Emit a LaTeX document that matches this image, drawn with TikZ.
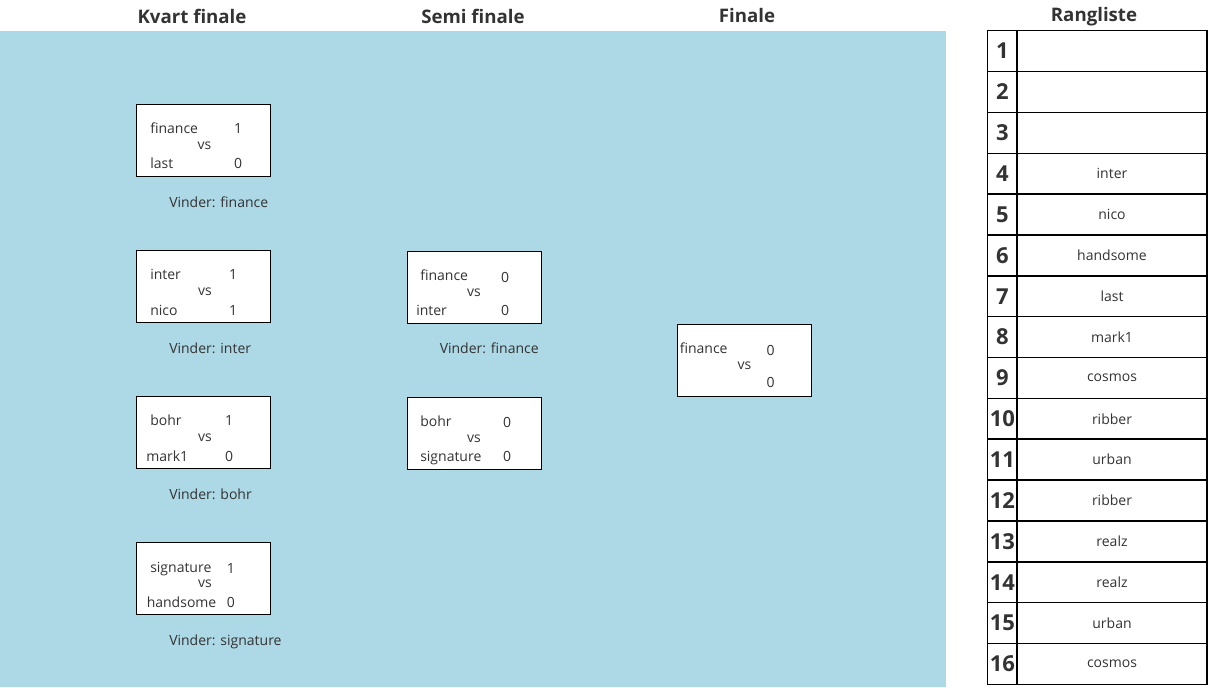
\documentclass[tikz,border=0pt]{standalone}
\usepackage{fontspec}
\setmainfont{Open Sans}
\usetikzlibrary{positioning}
\definecolor{bgblue}{HTML}{ADD8E6}
\definecolor{ink}{HTML}{333333}
\tikzset{
  plaintxt/.style={inner sep=0pt, text=ink, font=\fontsize{10.5}{12}\selectfont},
  team/.style={plaintxt, anchor=mid west, yshift=-1.5pt},
  score/.style={plaintxt, anchor=mid, yshift=-1.5pt},
  matchbox/.style={draw=black, fill=white, line width=0.75pt, anchor=north west,
    minimum width=100.5pt, minimum height=54pt, inner sep=0pt},
  heading/.style={plaintxt, font=\bfseries\fontsize{14}{16}\selectfont},
  rankno/.style={draw=black, line width=1.1pt, minimum width=22.5pt, minimum height=30.6pt,
    inner sep=0pt, text=ink, font=\bfseries\fontsize{16.5}{18}\selectfont},
  rankname/.style={draw=black, line width=1.1pt, minimum width=142.5pt, minimum height=30.6pt,
    inner sep=0pt, text=ink, font=\fontsize{10.5}{12}\selectfont}
}
\begin{document}
\begin{tikzpicture}[x=0.75pt,y=-0.75pt]
  \useasboundingbox (0,0) rectangle (1210,687);
  \fill[bgblue] (0,31) rectangle (946,687);

  % headings
  \node[heading] (hkvart) at (192,16) {Kvart finale};
  \node[heading] (hsemi) at (473,16) {Semi finale};
  \node[heading] (hfinale) at (747,15) {Finale};
  \node[heading] (hrang) at (1094,17) {Rangliste};

  % kvart finale
  \node[matchbox] (kf1) at (136,104) {};
  \node[team] (kf1a) at (150,128) {finance};
  \node[score] (kf1as) at (238,128) {1};
  \node[score] (kf1vs) at (204.5,144) {vs};
  \node[team] (kf1b) at (150,163) {last};
  \node[score] (kf1bs) at (238,163) {0};
  \node[team] (kf1win) at (169,201.5) {Vinder: finance};

  \node[matchbox] (kf2) at (136,250) {};
  \node[team] (kf2a) at (150,274) {inter};
  \node[score] (kf2as) at (233,274) {1};
  \node[score] (kf2vs) at (205,290) {vs};
  \node[team] (kf2b) at (150,310) {nico};
  \node[score] (kf2bs) at (233,310) {1};
  \node[team] (kf2win) at (169,347.5) {Vinder: inter};

  \node[matchbox] (kf3) at (136,396) {};
  \node[team] (kf3a) at (150,420) {bohr};
  \node[score] (kf3as) at (229,420) {1};
  \node[score] (kf3vs) at (205,436) {vs};
  \node[team] (kf3b) at (146,456) {mark1};
  \node[score] (kf3bs) at (229,456) {0};
  \node[team] (kf3win) at (169,493.5) {Vinder: bohr};

  \node[matchbox] (kf4) at (136,542) {};
  \node[team] (kf4a) at (150,567) {signature};
  \node[score] (kf4as) at (231,568) {1};
  \node[score] (kf4vs) at (205,582) {vs};
  \node[team] (kf4b) at (146.5,601.5) {handsome};
  \node[score] (kf4bs) at (231,601.5) {0};
  \node[team] (kf4win) at (169,639.5) {Vinder: signature};

  % semi finale
  \node[matchbox] (sf1) at (406.5,250.5) {};
  \node[team] (sf1a) at (420,275) {finance};
  \node[score] (sf1as) at (505,277) {0};
  \node[score] (sf1vs) at (474,290.5) {vs};
  \node[team] (sf1b) at (416,310) {inter};
  \node[score] (sf1bs) at (505,310) {0};
  \node[team] (sf1win) at (439.5,347.5) {Vinder: finance};

  \node[matchbox] (sf2) at (406.5,396.5) {};
  \node[team] (sf2a) at (420,420.5) {bohr};
  \node[score] (sf2as) at (507,422) {0};
  \node[score] (sf2vs) at (474,436.5) {vs};
  \node[team] (sf2b) at (420,455.5) {signature};
  \node[score] (sf2bs) at (507,455.5) {0};

  % finale
  \node[matchbox] (fin) at (676.5,323.5) {};
  \node[team] (fina) at (679.5,348) {finance};
  \node[score] (finas) at (770.5,350) {0};
  \node[score] (finvs) at (744.5,363.5) {vs};
  \node[score] (finbs) at (770.5,381.5) {0};

  % rangliste
  \foreach \i/\navn in {1/{},2/{},3/{},4/inter,5/nico,6/handsome,7/last,8/mark1,
      9/cosmos,10/ribber,11/urban,12/ribber,13/realz,14/realz,15/urban,16/cosmos}{
    \node[rankno] (no\i) at (1002.3,{30.7+40.85*(\i-0.5)}) {\i};
    \node[rankname] (rank\i) at (1112,{30.7+40.85*(\i-0.5)}) {\navn};
  }
\end{tikzpicture}
\end{document}
